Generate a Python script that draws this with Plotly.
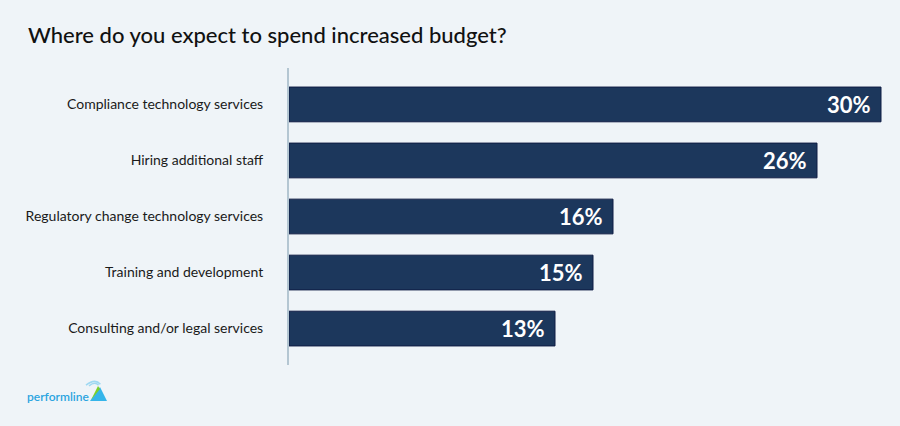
import plotly.graph_objects as go

categories = [
    "Compliance technology services",
    "Hiring additional staff",
    "Regulatory change technology services",
    "Training and development",
    "Consulting and/or legal services",
]
values = [29.6, 26.4, 16.2, 15.2, 13.3]
value_labels = ["30%", "26%", "16%", "15%", "13%"]

BG = "#eff4f8"
BAR = "#1c375c"

fig = go.Figure()
fig.add_trace(go.Bar(
    x=values, y=categories, orientation="h",
    marker=dict(color=BAR, line=dict(color="#0f1c44", width=1)),
    width=0.62, hoverinfo="skip",
))

for c, v, t in zip(categories, values, value_labels):
    fig.add_annotation(x=v, y=c, text=t, showarrow=False, xanchor="right", xshift=-8,
                       font=dict(family="Lato", size=22, color="white", weight="bold"))

def px(x):
    return (x - 289) / 600

def py(y):
    return (365 - y) / 297

fig.add_annotation(xref="paper", yref="paper", x=px(26), y=py(35),
                   text="Where do you expect to spend increased budget?", showarrow=False,
                   xanchor="left", yanchor="middle",
                   font=dict(family="Lato", size=22, color="#111111", weight=500))

fig.add_annotation(xref="paper", yref="paper", x=px(25), y=py(396),
                   text="performline", showarrow=False, xanchor="left", yanchor="middle",
                   font=dict(family="Lato", size=12, color="#2ba4e0", weight=600))
# logo icon
fig.add_shape(type="path", xref="paper", yref="paper",
              path=f"M {px(90)} {py(401)} L {px(100)} {py(387)} L {px(107)} {py(401)} Z",
              fillcolor="#35b5ea", line=dict(width=0))
fig.add_shape(type="path", xref="paper", yref="paper",
              path=f"M {px(91)} {py(400)} L {px(98)} {py(386)} L {px(100)} {py(389)} Z",
              fillcolor="#7ccf2a", line=dict(width=0))
for r in (6, 9):
    fig.add_shape(type="path", xref="paper", yref="paper",
                  path=f"M {px(95 - r)} {py(387 - r * 0.2)} Q {px(95)} {py(387 - r)} {px(95 + r * 0.6)} {py(387 - r * 0.3)}",
                  line=dict(color="#9fd8f2", width=1.5))

fig.update_layout(
    width=900, height=426,
    paper_bgcolor=BG, plot_bgcolor=BG,
    margin=dict(l=289, r=11, t=68, b=61),
    showlegend=False,
    xaxis=dict(range=[0, 30], visible=False, fixedrange=True),
    yaxis=dict(range=[4.65, -0.65], showline=True, linecolor="#b4c6d2", linewidth=2,
               showgrid=False, zeroline=False, ticks="", ticklabelstandoff=21,
               tickfont=dict(family="Lato", size=14, color="#1a1a1a")),
)

fig.write_html("out.html", config={"displayModeBar": False},
               post_script="document.body.style.margin='0';")
